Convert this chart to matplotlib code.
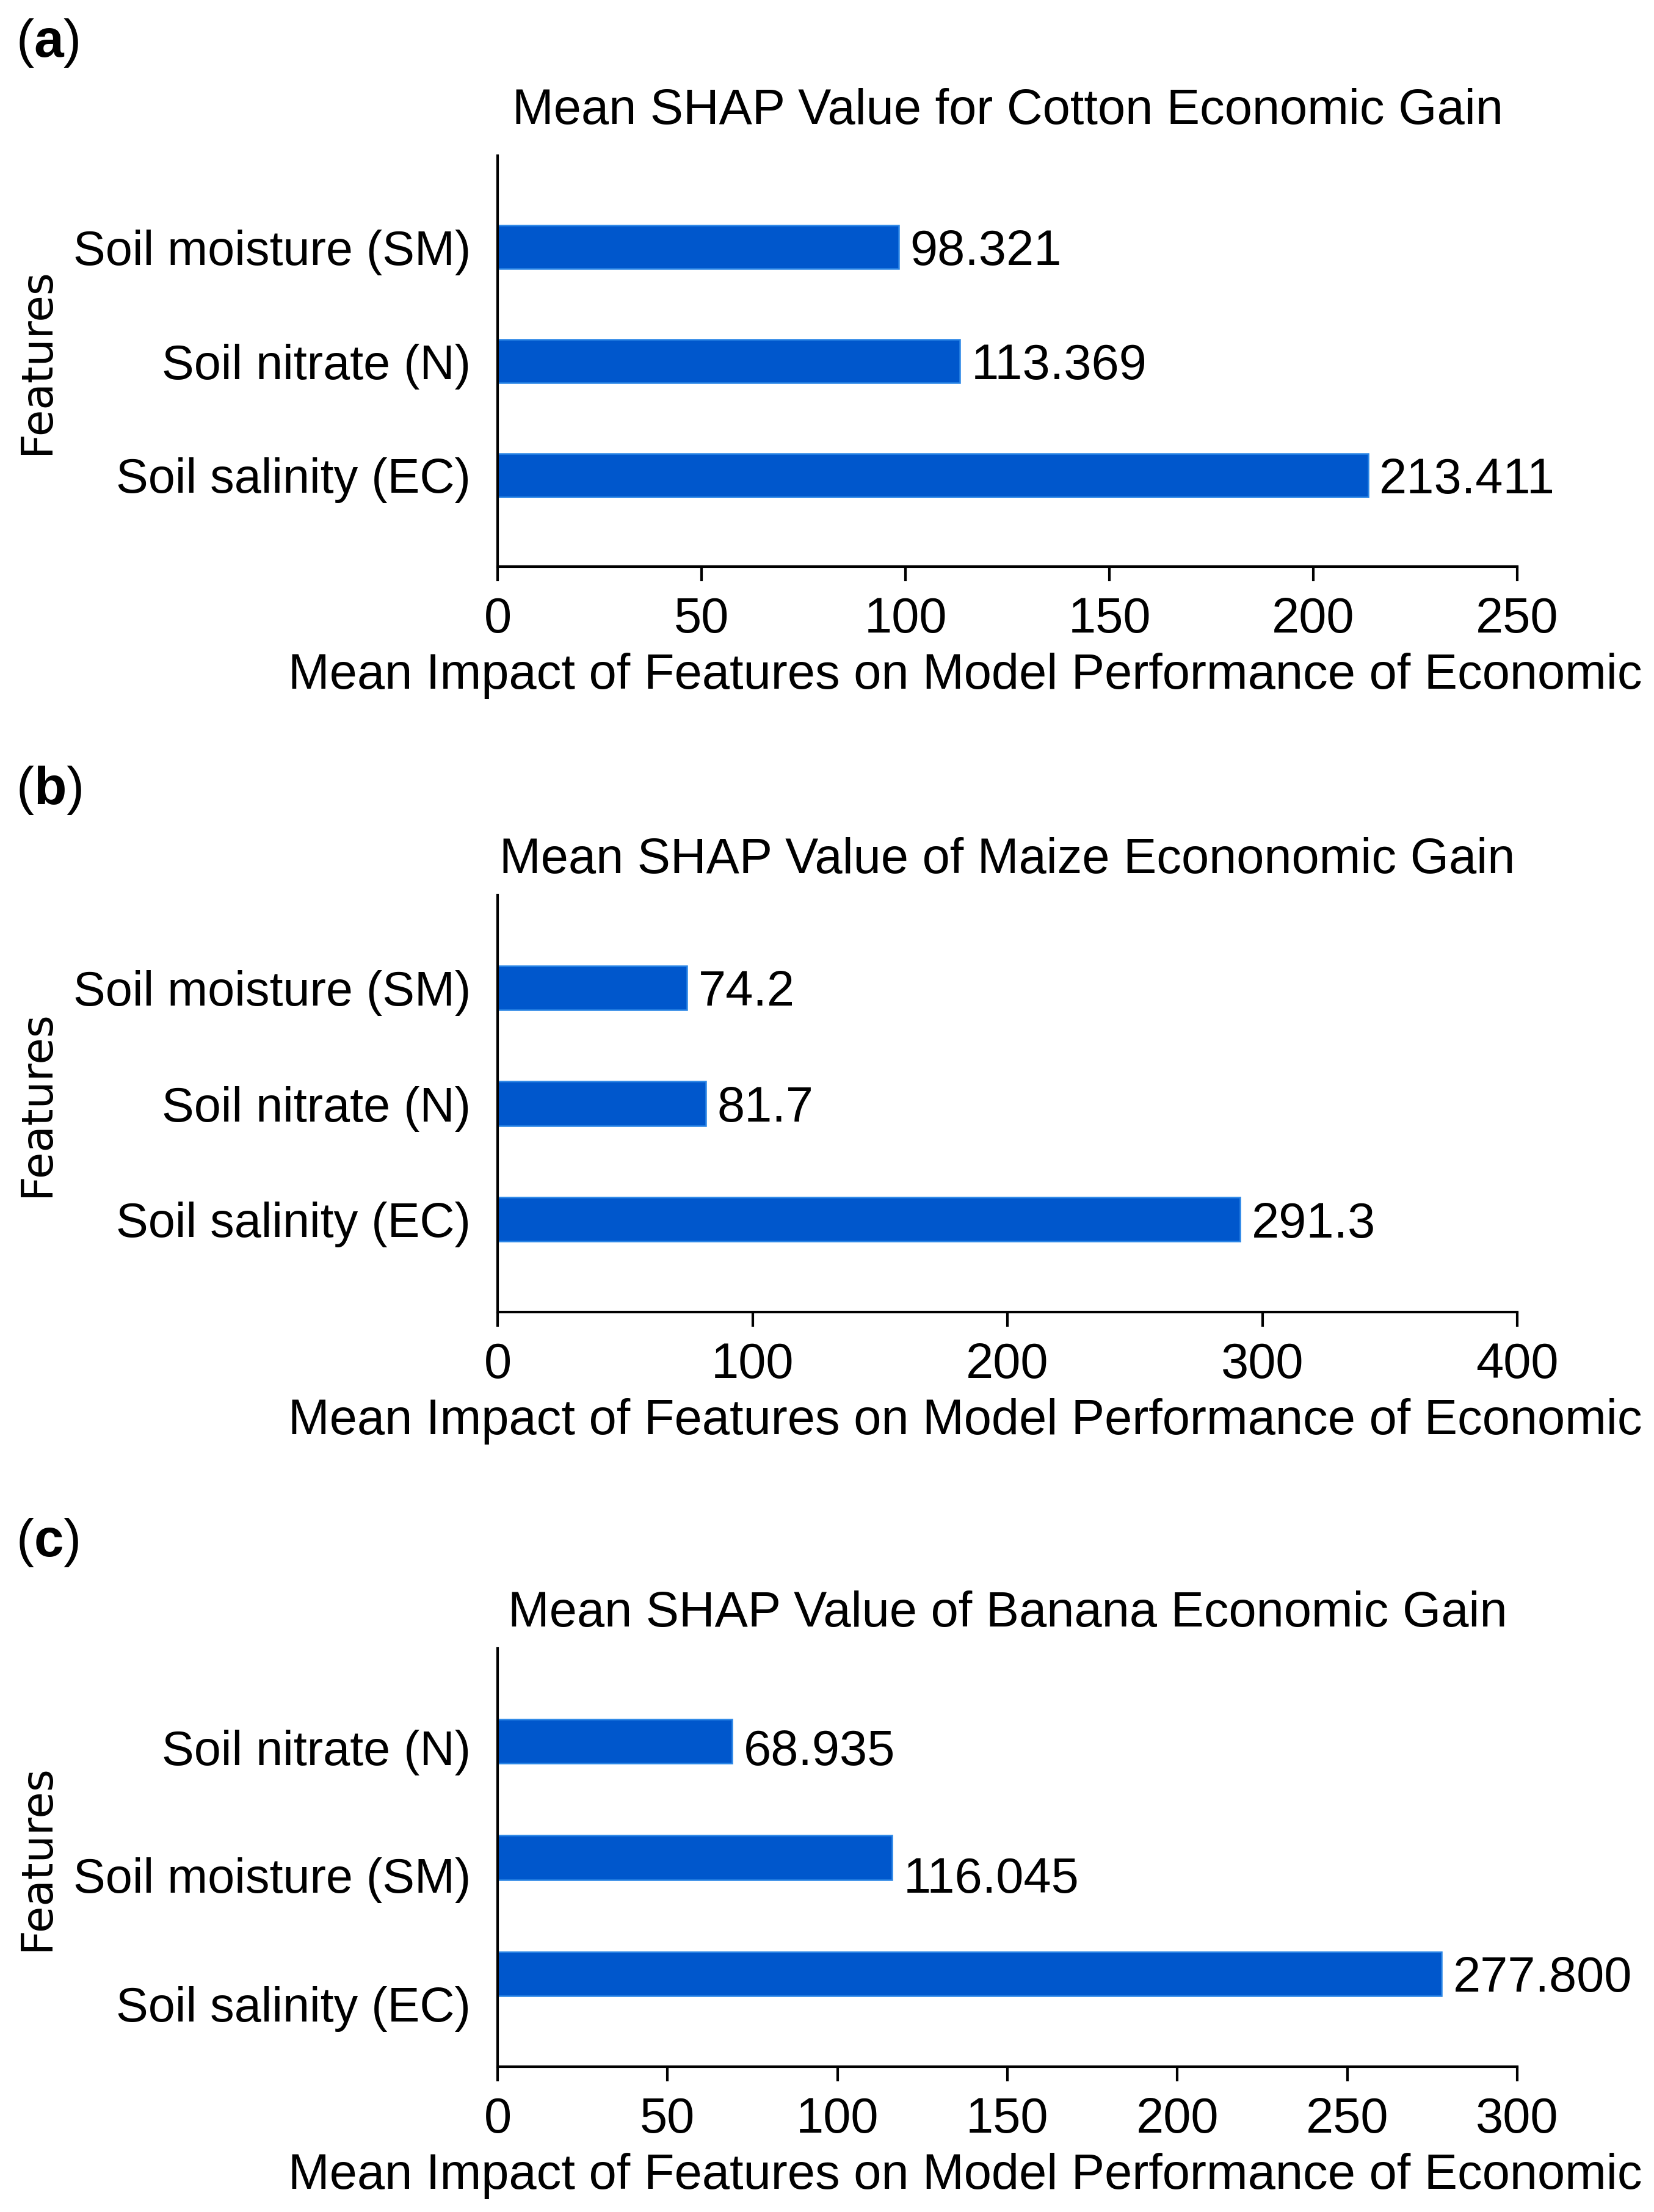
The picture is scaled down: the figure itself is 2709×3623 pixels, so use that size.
import matplotlib
matplotlib.use("Agg")
import matplotlib.pyplot as plt

plt.rcParams['font.family'] = ['Liberation Sans', 'DejaVu Sans']
plt.rcParams['mathtext.fontset'] = 'custom'
plt.rcParams['mathtext.rm'] = 'Liberation Sans'
plt.rcParams['mathtext.bf'] = 'Liberation Sans:bold'

# ---------------- data ----------------
cotton_features = ["Soil salinity (EC)", "Soil nitrate (N)", "Soil moisture (SM)"]
cotton_values = [213.411, 113.369, 98.321]
cotton_labels = ["213.411", "113.369", "98.321"]
cotton_ticks = [0, 50, 100, 150, 200, 250]

maize_features = ["Soil salinity (EC)", "Soil nitrate (N)", "Soil moisture (SM)"]
maize_values = [291.3, 81.7, 74.2]
maize_labels = ["291.3", "81.7", "74.2"]
maize_ticks = [0, 100, 200, 300, 400]

banana_features = ["Soil salinity (EC)", "Soil moisture (SM)", "Soil nitrate (N)"]
banana_values = [277.800, 116.045, 68.935]
banana_labels = ["277.800", "116.045", "68.935"]
banana_ticks = [0, 50, 100, 150, 200, 250, 300]

titles = ["Mean SHAP Value for Cotton Economic Gain",
          "Mean SHAP Value of Maize Econonomic Gain",
          "Mean SHAP Value of Banana Economic Gain"]
panel_tags = ["a", "b", "c"]
xlabel_text = "Mean Impact of Features on Model Performance of Economic"
ylabel_text = "Features"

# ---------------- layout / style ----------------
W, H, DPI = 2709, 3623, 300
fig = plt.figure(figsize=(W / DPI, H / DPI), dpi=DPI)

bar_color = '#0057cc'
edge_color = '#2b86e6'
fs = 19.5
tick_fs = 19.0

# axes rectangles in pixels: (top, bottom)
ax_px = [(255, 928), (1466, 2149), (2700, 3385)]
left_px, right_px = 815, 2485
title_pads = [12.5, 8.6, 8.6]
tag_baselines = [93, 1317, 2549]
# label vertical offsets (panel c labels in the reference sit lower than the bars)
tick_offsets = [[0, 0, 0], [0, 0, 0], [-0.26, -0.15, -0.05]]
value_offsets = [[0, 0, 0], [0, 0, 0], [0, -0.145, -0.05]]

datasets = [
    (cotton_features, cotton_values, cotton_labels, cotton_ticks),
    (maize_features, maize_values, maize_labels, maize_ticks),
    (banana_features, banana_values, banana_labels, banana_ticks),
]

for i, (feats, vals, labs, ticks) in enumerate(datasets):
    top, bot = ax_px[i]
    ax = fig.add_axes([left_px / W, 1 - bot / H, (right_px - left_px) / W, (bot - top) / H])
    ypos = list(range(len(feats)))
    ax.barh(ypos, vals, height=0.38, color=bar_color, edgecolor=edge_color, linewidth=0.6)
    ax.set_xlim(ticks[0], ticks[-1])
    ax.set_ylim(-0.8, 2.8)
    ax.set_xticks(ticks)
    ax.set_xticklabels([str(t) for t in ticks], fontsize=fs)
    ax.set_yticks([y + o for y, o in zip(ypos, tick_offsets[i])])
    ax.set_yticklabels(feats, fontsize=tick_fs)
    ax.tick_params(axis='y', length=0, pad=10.5)
    ax.tick_params(axis='x', length=5.8, width=1.0, pad=6.0, direction='out')
    for s in ['top', 'right']:
        ax.spines[s].set_visible(False)
    for s in ['left', 'bottom']:
        ax.spines[s].set_linewidth(1.0)

    for y, v, lab, o in zip(ypos, vals, labs, value_offsets[i]):
        ax.annotate(lab, xy=(v, y + o), xytext=(4.5, 0), textcoords='offset points',
                    ha='left', va='center_baseline', fontsize=fs)

    ax.set_title(titles[i], fontsize=fs, pad=title_pads[i])

    # y label
    ax.set_ylabel(ylabel_text, fontsize=17, family=['DejaVu Sans'], va='center')
    ax.yaxis.set_label_coords((60 - left_px) / (right_px - left_px), 0.5)

    # x label (right-aligned to figure edge as in reference)
    ax.set_xlabel(xlabel_text, fontsize=fs, ha='right', va='baseline')
    ax.xaxis.set_label_coords((2690 - left_px) / (right_px - left_px),
                              -200 / (bot - top))

    # panel tag
    fig.text(26 / W, 1 - tag_baselines[i] / H, r"($\mathbf{%s}$)" % panel_tags[i],
             fontsize=21, ha='left', va='baseline')

fig.savefig("out.png", dpi=DPI)
